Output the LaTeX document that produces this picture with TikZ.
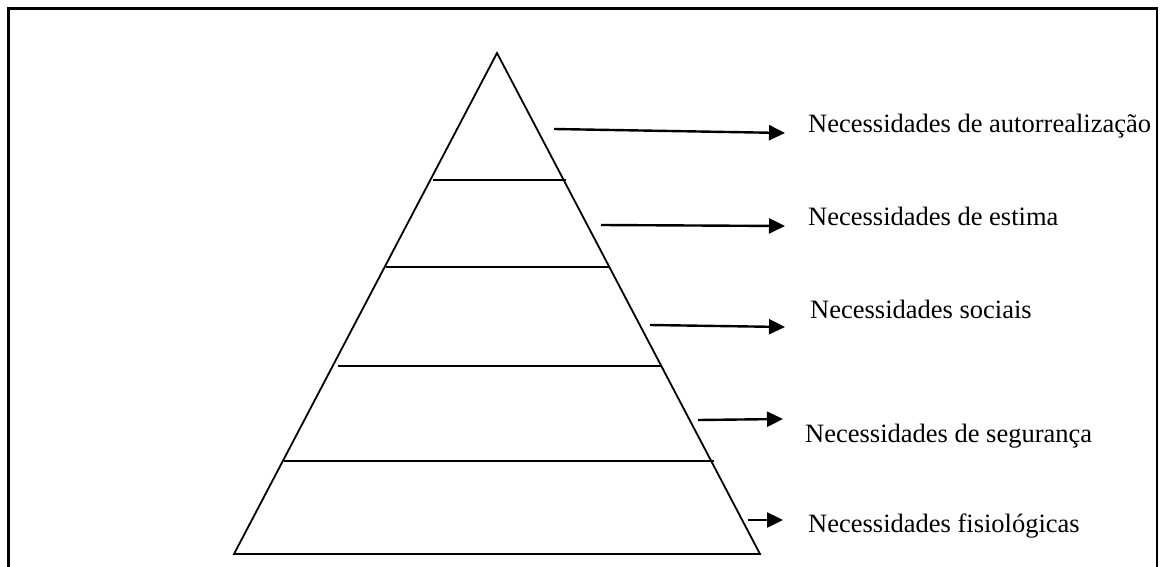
\documentclass[tikz,border=0pt]{standalone}
\usepackage{fontspec}
\setmainfont{Liberation Serif}
\usetikzlibrary{arrows.meta}

\begin{document}
\begin{tikzpicture}[
    x=1pt, y=-1pt,
    frame/.style={line width=2.6pt},
    edge/.style={line width=1.8pt, line join=miter},
    level/.style={line width=1.8pt},
    need/.style={anchor=base west, inner sep=0pt, font=\fontsize{26.5}{30}\selectfont},
    arr/.style={line width=2.4pt, -{Triangle[length=16pt, width=15pt]}}
]
\useasboundingbox (0,0) rectangle (1162,567);

% --- Frame (open at the bottom) ---
\draw[frame] (8.5,575) -- (8.5,8.5) -- (1157,8.5) -- (1157,575);

% --- Pyramid ---
\coordinate (top) at (497,53);
\coordinate (bl) at (234,554);
\coordinate (br) at (760,554);
\draw[edge] (bl) -- (top) -- (br) -- cycle;

\coordinate (L1a) at (433,180); \coordinate (L1b) at (566,180);
\coordinate (L2a) at (386,267); \coordinate (L2b) at (610,267);
\coordinate (L3a) at (338,366); \coordinate (L3b) at (662,366);
\coordinate (L4a) at (284,461); \coordinate (L4b) at (714,461);
\foreach \l in {L1,L2,L3,L4}
    \draw[level] (\l a) -- (\l b);

% --- Labels ---
\node[need] (auto) at (808,133) {Necessidades de autorrealização};
\node[need] (est)  at (808,225) {Necessidades de estima};
\node[need] (soc)  at (810,318) {Necessidades sociais};
\node[need] (seg)  at (805,442) {Necessidades de segurança};
\node[need] (fis)  at (808,532) {Necessidades fisiológicas};

% --- Arrows ---
\coordinate (s1) at (554,129); \coordinate (t1) at (785,133);
\coordinate (s2) at (601,225); \coordinate (t2) at (785,226);
\coordinate (s3) at (650,325); \coordinate (t3) at (785,327);
\coordinate (s4) at (698,420); \coordinate (t4) at (783,419);
\coordinate (s5) at (748,520); \coordinate (t5) at (783,520);
\foreach \i in {1,...,5}
    \draw[arr] (s\i) -- (t\i);

\end{tikzpicture}
\end{document}
